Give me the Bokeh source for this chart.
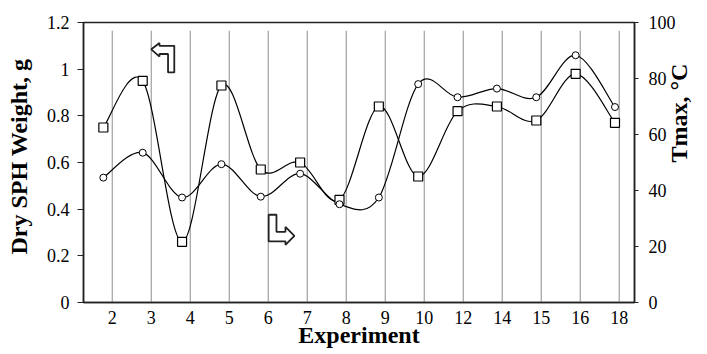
import math
from bokeh.plotting import figure
from bokeh.models import Range1d, LinearAxis, FixedTicker, CustomJSTickFormatter
from bokeh.embed import file_html
from bokeh.resources import INLINE

# ---- data ----
experiments = ["2", "3", "4", "5", "6", "7", "8", "9", "10", "12", "14", "15", "16", "18"]
dry_weight = [0.75, 0.95, 0.26, 0.93, 0.57, 0.60, 0.44, 0.84, 0.54, 0.82, 0.84, 0.78, 0.98, 0.77]
tmax = [44.6, 53.5, 37.5, 49.4, 37.8, 46.0, 35.1, 37.5, 78.0, 73.3, 76.4, 73.3, 88.3, 69.8]
weight_ticks = [0, 0.2, 0.4, 0.6, 0.8, 1.0, 1.2]
tmax_ticks = [0, 20, 40, 60, 80, 100]

# ---- layout helpers ----
n = len(experiments)
tick_pos = list(range(n))
# markers sit slightly left of the category grid lines
mark_x = [-0.229 + 1.0092 * i for i in range(n)]

TICK_FONT = '"Liberation Serif"'
TITLE_FONT = "Liberation Serif"
NB = "\u00a0"  # non-breaking space, used to nudge a centred title


def smooth(xs, ys):
    """Catmull-Rom style bezier segments through the points (like Excel smoothed lines)."""
    m = len(xs)
    out = dict(x0=[], y0=[], x1=[], y1=[], cx0=[], cy0=[], cx1=[], cy1=[])
    for i in range(m - 1):
        a = max(i - 1, 0)
        d = min(i + 2, m - 1)
        out["x0"].append(xs[i]); out["y0"].append(ys[i])
        out["x1"].append(xs[i + 1]); out["y1"].append(ys[i + 1])
        out["cx0"].append(xs[i] + (xs[i + 1] - xs[a]) / 6.0)
        out["cy0"].append(ys[i] + (ys[i + 1] - ys[a]) / 6.0)
        out["cx1"].append(xs[i + 1] - (xs[d] - xs[i]) / 6.0)
        out["cy1"].append(ys[i + 1] - (ys[d] - ys[i]) / 6.0)
    return out


p = figure(width=707, height=354, output_backend="svg", toolbar_location=None,
           x_range=Range1d(-0.738, 13.391), y_range=Range1d(0, 1.2),
           min_border_left=83, min_border_right=69, min_border_top=22, min_border_bottom=52)
p.extra_y_ranges = {"t": Range1d(0, 100)}
p.xgrid.visible = False
p.ygrid.visible = False
p.outline_line_color = "#222222"
p.outline_line_width = 1.5
p.background_fill_color = "white"
p.border_fill_color = "white"

# vertical category grid lines
p.segment(x0=tick_pos, y0=[0] * n, x1=tick_pos, y1=[1.165] * n,
          line_color="#a0a0a0", line_width=1.2)

# smoothed lines
p.bezier(**smooth(mark_x, dry_weight), line_color="black", line_width=1.2)
p.bezier(**smooth(mark_x, tmax), line_color="black", line_width=1.2, y_range_name="t")

# markers
p.scatter(mark_x, dry_weight, marker="square", size=9, fill_color="white",
          line_color="black", line_width=1.2)
p.scatter(mark_x, tmax, marker="circle", size=7, fill_color="white",
          line_color="black", line_width=1.0, y_range_name="t")

# arrow markers (decorations pointing to the respective axes)
p.patch([1.0, 1.21, 1.21, 1.59, 1.59, 1.43, 1.43, 1.21, 1.21],
        [1.085, 1.112, 1.100, 1.100, 0.986, 0.986, 1.065, 1.065, 1.054],
        fill_color="white", line_color="#222222", line_width=1.8)
p.patch([4.01, 4.21, 4.21, 4.44, 4.44, 4.67, 4.44, 4.44, 4.01],
        [0.376, 0.376, 0.303, 0.303, 0.324, 0.286, 0.247, 0.262, 0.262],
        fill_color="white", line_color="#222222", line_width=1.8)

# ---- axes ----
xa = p.xaxis[0]
xa.ticker = FixedTicker(ticks=tick_pos)
xa.formatter = CustomJSTickFormatter(args=dict(labels=experiments),
                                     code="return labels[Math.round(tick)] || '';")
xa.major_tick_out = 0
xa.major_tick_in = 0
xa.minor_tick_line_color = None
xa.axis_label = "Experiment"
xa.axis_label_standoff = -5
xa.major_label_standoff = 8

ya = p.yaxis[0]
ya.ticker = FixedTicker(ticks=weight_ticks)
ya.formatter = CustomJSTickFormatter(code="return Number(tick.toFixed(1)).toString();")
ya.major_tick_out = 6
ya.major_tick_in = 0
ya.minor_tick_line_color = None
ya.axis_label = NB * 2 + "Dry SPH Weight, g"
ya.axis_label_standoff = 12
ya.major_label_standoff = 8

ra = LinearAxis(y_range_name="t", ticker=FixedTicker(ticks=tmax_ticks))
ra.major_tick_out = 4
ra.major_tick_in = 0
ra.minor_tick_line_color = None
ra.major_label_standoff = 10
ra.axis_label = "Tmax, °C"
ra.axis_label_standoff = 0
if "axis_label_orientation" in ra.properties():
    ra.axis_label_orientation = math.pi / 2   # reads bottom-to-top like the original
p.add_layout(ra, "right")

for ax in (xa, ya, ra):
    ax.axis_line_color = "#222222"
    ax.axis_line_width = 1.5
    ax.major_tick_line_color = "#222222"
    ax.major_tick_line_width = 1.2
    ax.major_label_text_font = TICK_FONT
    ax.major_label_text_font_size = "18px"
    ax.major_label_text_color = "black"
    ax.axis_label_text_font = TITLE_FONT
    ax.axis_label_text_font_size = "24px"
    ax.axis_label_text_font_style = "bold"
    ax.axis_label_text_color = "black"

open("out.html", "w").write(file_html(p, INLINE))
